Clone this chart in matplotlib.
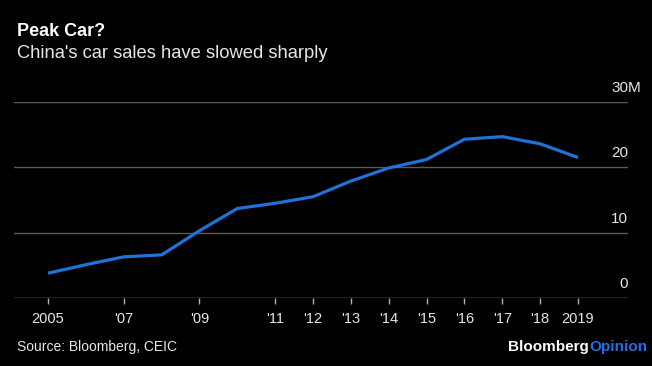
import matplotlib.pyplot as plt
from matplotlib.transforms import blended_transform_factory

plt.rcParams['font.family'] = ['Liberation Sans', 'DejaVu Sans']

# data (millions of cars per year)
years = [2005, 2006, 2007, 2008, 2009, 2010, 2011, 2012,
         2013, 2014, 2015, 2016, 2017, 2018, 2019]
sales = [3.8, 5.1, 6.3, 6.6, 10.3, 13.7, 14.5, 15.5,
         17.9, 19.9, 21.2, 24.3, 24.7, 23.6, 21.5]

tick_years = [2005, 2007, 2009, 2011, 2012, 2013, 2014, 2015,
              2016, 2017, 2018, 2019]
tick_labels = ['2005', "'07", "'09", "'11", "'12", "'13", "'14", "'15",
               "'16", "'17", "'18", '2019']
y_vals = [0, 10, 20, 30]
y_labels = ['0', '10', '20', '30']
y_unit = 'M'

bg = 'black'
grid_col = '#5a5a5a'
axis_col = '#b0b0b0'
txt_col = '#e6e6e6'
line_col = '#1f72d8'

fig = plt.figure(figsize=(6.52, 3.66), dpi=100, facecolor=bg)
ax = fig.add_axes([14/652, 1-298/366, 614/652, 196/366], facecolor=bg)

ax.plot(years, sales, color=line_col, lw=2.3, solid_capstyle='butt', zorder=3)

ax.set_xlim(2004.10, 2020.32)
ax.set_ylim(0, 30)

for v in y_vals[1:]:
    ax.axhline(v, color=grid_col, lw=1.0, zorder=1)
ax.axhline(0, color=axis_col, lw=1.0, zorder=2)

# y labels sit above the grid lines at the right edge, unit hangs past it
tr = blended_transform_factory(ax.transAxes, ax.transData)
for v, lbl in zip(y_vals, y_labels):
    ax.annotate(lbl, xy=(1.0, v), xycoords=tr, xytext=(0, 5),
                textcoords='offset points', ha='right', va='bottom',
                color=txt_col, fontsize=11)
ax.annotate(y_unit, xy=(1.0, y_vals[-1]), xycoords=tr, xytext=(0, 5),
            textcoords='offset points', ha='left', va='bottom',
            color=txt_col, fontsize=11)

ax.set_xticks(tick_years)
ax.set_xticklabels(tick_labels)
ax.set_yticks([])
ax.tick_params(axis='x', colors=axis_col, length=4, width=1, pad=6,
               labelsize=10.5, labelcolor=txt_col)
for s in ax.spines.values():
    s.set_visible(False)

fig.text(17/652, 1-31/366, 'Peak Car?', color='white', fontsize=13,
         fontweight='bold', va='center', ha='left')
fig.text(17/652, 1-54/366, "China's car sales have slowed sharply",
         color=txt_col, fontsize=13.2, va='center', ha='left')
fig.text(17/652, 1-347/366, 'Source: Bloomberg, CEIC', color=txt_col,
         fontsize=10, va='center', ha='left')

t1 = fig.text(1-5/652, 1-347/366, 'Opinion', color='#1f6fe0', fontsize=11,
              fontweight='bold', va='center', ha='right')
fig.canvas.draw()
bb = t1.get_window_extent()
fig.text(bb.x0 / fig.bbox.width, 1-347/366, 'Bloomberg', color='white',
         fontsize=11, fontweight='bold', va='center', ha='right')

fig.savefig('out.png', dpi=100, facecolor=bg)
